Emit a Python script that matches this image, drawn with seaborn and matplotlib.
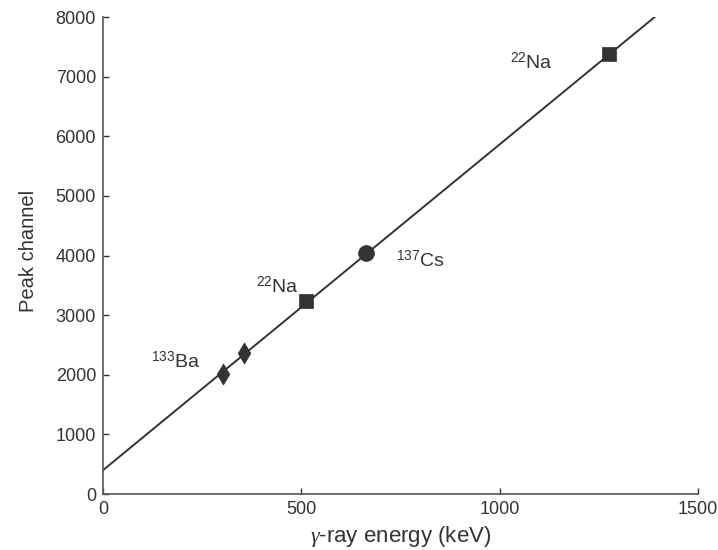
import matplotlib
matplotlib.use("Agg")
import matplotlib.pyplot as plt
import seaborn as sns
import pandas as pd

# Calibration points: gamma-ray energy (keV) vs. measured peak channel
energy_kev = [303, 356, 511, 662, 1275]
peak_channel = [2020, 2360, 3230, 4040, 7380]
source = ["Ba", "Ba", "Na", "Cs", "Na"]

# Calibration line end points
line_energy = [0, 1400]
line_channel = [400, 8050]

# Source labels: text and baseline anchor (keV, channel)
label_text = [r"$^{133}$Ba", r"$^{22}$Na", r"$^{137}$Cs", r"$^{22}$Na"]
label_x = [121, 385, 738, 1025]
label_y = [2115, 3372, 3809, 7120]

x_ticks = [0, 500, 1000, 1500]
y_ticks = [0, 1000, 2000, 3000, 4000, 5000, 6000, 7000, 8000]

sns.set_theme(style="ticks")
plt.rcParams["font.family"] = ["Liberation Sans", "DejaVu Sans"]
plt.rcParams["mathtext.fontset"] = "custom"
plt.rcParams["mathtext.rm"] = "Liberation Sans"
plt.rcParams["mathtext.it"] = "Liberation Serif:italic"

ink = "#333333"
df = pd.DataFrame({"energy": energy_kev, "channel": peak_channel, "source": source})
line_df = pd.DataFrame({"energy": line_energy, "channel": line_channel})

fig = plt.figure(figsize=(7.18, 5.5), dpi=100)
ax = fig.add_axes([0.1435, 0.1018, 0.9721 - 0.1435, 0.969 - 0.1018])

sns.lineplot(data=line_df, x="energy", y="channel", color=ink, lw=1.4, ax=ax)
markers = {"Ba": "d", "Na": "s", "Cs": "o"}
sizes = {"Ba": 115, "Na": 90, "Cs": 130}
for src, m in markers.items():
    sub = df[df["source"] == src]
    sns.scatterplot(data=sub, x="energy", y="channel", marker=m, s=sizes[src],
                    color=ink, edgecolor=ink, linewidth=0.5, ax=ax, zorder=3)

for t, x, y in zip(label_text, label_x, label_y):
    ax.text(x, y, t, fontsize=14, color=ink, ha="left", va="baseline")

ax.set_xlim(0, 1500)
ax.set_ylim(0, 8000)
ax.set_xticks(x_ticks)
ax.set_yticks(y_ticks)
ax.set_xlabel(r"$\gamma$-ray energy (keV)", fontsize=16, color=ink, labelpad=4)
ax.set_ylabel("Peak channel", fontsize=14.5, color=ink)
ax.yaxis.set_label_coords(-0.11, 0.51)
ax.tick_params(direction="in", length=4, width=1, colors=ink, labelsize=13, pad=5)
for s in ["top", "right"]:
    ax.spines[s].set_visible(False)
for s in ["left", "bottom"]:
    ax.spines[s].set_color("#555555")
    ax.spines[s].set_linewidth(1.2)

fig.savefig("out.png", dpi=100, facecolor="white")
